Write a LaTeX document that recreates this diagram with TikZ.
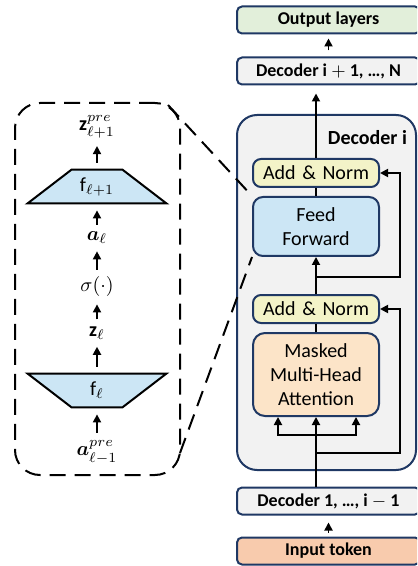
\documentclass[tikz,border=0pt]{standalone}
\usepackage{amsmath, amssymb}
\usepackage{fontspec}
\setmainfont{Carlito}
\usepackage{tikz}
\usetikzlibrary{arrows.meta, backgrounds}
\definecolor{navy}{RGB}{31, 56, 100}
\definecolor{outgreen}{RGB}{226, 239, 218}
\definecolor{decgray}{RGB}{242, 242, 242}
\definecolor{normyellow}{RGB}{243, 243, 200}
\definecolor{ffblue}{RGB}{204, 230, 245}
\definecolor{attnpeach}{RGB}{252, 228, 200}
\definecolor{tokensalmon}{RGB}{248, 203, 173}

\begin{document}
\begin{tikzpicture}[x=1pt, y=-1pt,
      blk/.style={draw=navy, line width=1pt, rounded corners=2.5pt, minimum width=91.5pt, minimum height=13.5pt,
                  inner sep=0pt, font=\fontsize{9}{10}\selectfont\bfseries},
      sub/.style={draw=navy, line width=1pt, rounded corners=4pt, text width=63pt, align=center,
                  inner sep=0pt, font=\fontsize{10}{12}\selectfont},
      trap/.style={inner sep=0pt, minimum width=69pt, minimum height=16.5pt, font=\fontsize{10}{12}\selectfont},
      tz/.style={draw, line width=1pt, fill=ffblue},
      mth/.style={inner sep=0pt, font=\fontsize{10}{12}\selectfont},
      ar/.style={-{Triangle[length=4pt, width=4pt]}, line width=0.9pt},
      ln/.style={line width=0.9pt},
      up/.style={ar, shorten <=3.5pt, shorten >=3.5pt},
      dsh/.style={dash pattern=on 8pt off 4.5pt, line width=1pt}]
      \useasboundingbox (0,0) rectangle (208.5,283);
      \clip (0,0) rectangle (208.5,283);
      % decoder stack
      \node[blk, fill=outgreen] (out) at (164.25,10) {Output layers};
      \node[blk, fill=decgray] (decup) at (164.25,35.5) {Decoder $\mathbf{i}+\mathbf{1}$, …, N};
      \node[draw=navy, fill=decgray, line width=1pt, rounded corners=10pt, minimum width=89.5pt,
            minimum height=177.5pt] (deci) at (163.25,146.25) {};
      \node[inner sep=0pt, font=\fontsize{10}{12}\selectfont\bfseries] (decilbl) at (183.75,69) {Decoder i};
      \node[sub, fill=normyellow, minimum height=14pt] (norm2) at (158,86.5) {Add \& Norm};
      \node[sub, fill=ffblue, minimum height=29.5pt, rounded corners=5pt] (ff) at (158,113.25) {Feed\\Forward};
      \node[sub, fill=normyellow, minimum height=14pt] (norm1) at (158,154.5) {Add \& Norm};
      \node[sub, fill=attnpeach, minimum height=41.5pt, rounded corners=6pt] (mha) at (158,187.25) {Masked\\Multi-Head\\Attention};
      \node[blk, fill=decgray] (decdown) at (164.25,250.5) {Decoder $\mathbf{1}$, …, $\mathbf{i}-\mathbf{1}$};
      \node[blk, fill=tokensalmon] (tok) at (164.25,275.5) {Input token};
      \coordinate (split) at (158,217.5);
      \coordinate (skip1) at (158,226.5);
      \coordinate (skip2) at (158,138.5);
      \draw[ar, shorten <=2pt, shorten >=3.5pt] (tok) -- (decdown);
      \draw[ar] (decdown.north -| split) -- (mha.south);
      \draw[ar] (split) -| ([xshift=-19pt]mha.south);
      \draw[ar] (split) -| ([xshift=20pt]mha.south);
      \draw[ar] (skip1) -- ++(42,0) |- (norm1.east);
      \draw[ln] (mha) -- (norm1);
      \draw[ar] (norm1) -- (ff);
      \draw[ar] (skip2) -- ++(42,0) |- (norm2.east);
      \draw[ln] (ff) -- (norm2);
      \draw[ar, shorten >=4pt] (norm2) -- (norm2 |- decup.south);
      \draw[ar, shorten <=3pt, shorten >=2pt] (decup) -- (out);
      % zoomed feed-forward
      \node[draw, dsh, rounded corners=12.5pt, minimum width=82.5pt, minimum height=186pt] (zoomb) at (48.75,144.5) {};
      \node[mth] (zout) at (48.5,63.5) {$\mathbf{z}^{pre}_{\ell+1}$};
      \node[trap] (fnext) at (48.5,93.25) {$\mathrm{f}_{\ell+1}$};
      \node[mth] (act) at (48.5,119) {$\boldsymbol{a}_{\ell}$};
      \node[mth] (sig) at (48.5,143.5) {$\sigma(\cdot)$};
      \node[mth] (zl) at (48.5,166.5) {$\mathbf{z}_{\ell}$};
      \node[trap] (fcur) at (48.5,195.25) {$\mathrm{f}_{\ell}$};
      \node[mth] (ain) at (48.5,226) {$\boldsymbol{a}^{pre}_{\ell-1}$};
      \begin{scope}[on background layer]
        \draw[tz] (fnext.south west) -- (fnext.south east) -- ([xshift=-22pt]fnext.north east)
          -- ([xshift=22pt]fnext.north west) -- cycle;
        \draw[tz] (fcur.north west) -- (fcur.north east) -- ([xshift=-22pt]fcur.south east)
          -- ([xshift=22pt]fcur.south west) -- cycle;
      \end{scope}
      \draw[up] (ain) -- (fcur);
      \draw[up] (fcur) -- (zl);
      \draw[up] (zl) -- (sig);
      \draw[up] (sig) -- (act);
      \draw[up] (act) -- (fnext);
      \draw[up] (fnext) -- (zout);
      \coordinate (zt) at (84,52.5);
      \coordinate (zb) at (90,226.5);
      \draw[dsh] (zt) -- (ff.north west);
      \draw[dsh] (zb) -- (ff.south west);
    \end{tikzpicture}
\end{document}
